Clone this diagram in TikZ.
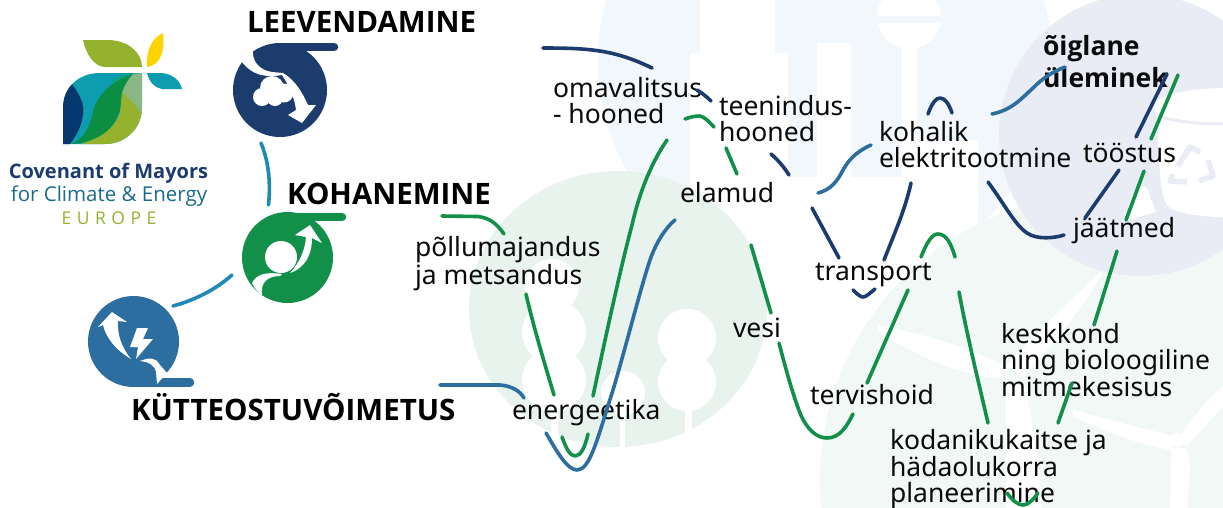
\documentclass[tikz,border=0pt]{standalone}
\usepackage{fontspec}
\setmainfont{Noto Sans}
\newfontfamily\logofont{Open Sans}
\definecolor{ink}{HTML}{0A0A0A}
\definecolor{navyc}{HTML}{1C3C6E}
\definecolor{bluec}{HTML}{2C6E9F}
\definecolor{skyc}{HTML}{1E88B8}
\definecolor{greenc}{HTML}{12904A}
\definecolor{bgblue}{HTML}{F1F7FB}
\definecolor{bggreen}{HTML}{E9F3EE}
\definecolor{bggreenb}{HTML}{F2F8F5}
\definecolor{bglav}{HTML}{E9ECF5}
\definecolor{logoolive}{HTML}{95B22E}
\definecolor{logoyellow}{HTML}{FDD300}
\definecolor{logoteal}{HTML}{0E9DB0}
\definecolor{logonavy}{HTML}{06376F}
\definecolor{logogreen}{HTML}{0B8E43}
\definecolor{logosage}{HTML}{8BB785}
\definecolor{logomid}{HTML}{0AA181}
\definecolor{logotxt}{HTML}{1A6A8A}
\tikzset{
  lbl/.style={anchor=base west,xshift=-1pt,inner sep=0pt,outer sep=0pt,align=left,text=ink,font=\fontsize{26.5}{25.2}\selectfont},
  ttl/.style={anchor=base west,inner sep=0pt,outer sep=0pt,text=black,font=\logofont\fontsize{29.5}{29.5}\selectfont\bfseries},
  conn/.style={line width=3.6pt,line cap=round,line join=round},
  nv/.style={conn,draw=navyc},
  bl/.style={conn,draw=bluec},
  sk/.style={conn,draw=skyc},
  gr/.style={conn,draw=greenc},
  bar/.style={line width=8.5pt,line cap=round},
}
\begin{document}
\begin{tikzpicture}[x=1pt,y=-1pt]
\useasboundingbox (0,0) rectangle (1223,507);
\clip (0,0) rectangle (1223,507);
% ---------- faint background
\fill[bgblue] (825,60) circle [radius=227];
\fill[white] (700,-5) rectangle (775,53);
\fill[white] (690,53) rectangle (788,295);
\fill[white] (817,43) rectangle (851,177);
\fill[white] (902,40) rectangle (917,177);
\fill[white] (909,17) circle [radius=32];
\fill[bgblue] (870,16) rectangle (950,23);
\fill[white] (788,177) rectangle (978,295);
\fill[white] (917,140) rectangle (978,177);
% lower right green disc
\fill[bggreenb] (1106,480) circle [radius=286];
\fill[white] (878,325) .. controls (930,335) and (975,350) .. (1008,368) -- (1000,378) .. controls (960,375) and (925,360) .. (878,332) -- cycle;
\fill[white] (1006,366) .. controls (1040,330) and (1070,300) .. (1105,268) .. controls (1085,305) and (1055,345) .. (1022,376) -- cycle;
\fill[white] (1006,385) -- (1025,385) .. controls (1032,420) and (1040,470) .. (1042,510) -- (1006,510) -- cycle;
\fill[white] (1073,410) .. controls (1110,420) and (1150,430) .. (1172,436) -- (1172,450) .. controls (1140,445) and (1100,430) .. (1073,416) -- cycle;
\fill[white] (1181,434) .. controls (1195,415) and (1210,395) .. (1225,385) -- (1225,405) .. controls (1210,420) and (1198,435) .. (1186,446) -- cycle;
\fill[white] (1171,448) -- (1185,448) .. controls (1195,465) and (1186,490) .. (1188,510) -- (1170,510) -- cycle;
\fill[white] (1177,440) circle [radius=7];
% lavender disc
\fill[bglav] (1140,135) circle [radius=141];
\fill[white] (1153,103) .. controls (1165,92) and (1200,88) .. (1230,88) -- (1230,218) .. controls (1200,216) and (1175,214) .. (1168,206) .. controls (1162,198) and (1162,190) .. (1160,175) -- (1157,118) -- cycle;
\fill[white] (1132,196) .. controls (1138,183) and (1148,183) .. (1150,196) -- (1156,212) -- (1122,222) -- cycle;
\draw[bglav,line width=3pt] (1158,116) .. controls (1175,122) and (1200,124) .. (1230,124);
\begin{scope}[draw=bglav,line width=5.5pt,line join=round]
\draw (1178,166) -- (1190,147) -- (1200,152);
\draw (1208,160) -- (1213,176) -- (1199,181);
\draw (1187,182) -- (1170,181) -- (1173,174);
\end{scope}
% green disc with trees
\fill[bggreen] (618,309) ellipse [x radius=149, y radius=138];
\begin{scope}[white]
\fill (554,332) circle [radius=32];
\fill (554,380) circle [radius=32];
\fill (552,286) circle [radius=27];
\fill (687,338) circle [radius=29];
\fill (687,382) circle [radius=29];
\fill (623,393) circle [radius=22];
\fill (551,400) rectangle (558,445);
\fill (620,400) rectangle (625,455);
\fill (685,400) rectangle (692,445);
\end{scope}
% ---------- logo
\fill[logoolive] (83,40) -- (110,40) .. controls (128,41) and (142,52) .. (142,67) -- (105,67) .. controls (95,67) and (86,55) .. (83,40) -- cycle;
\fill[logoyellow] (147,67) .. controls (146,50) and (152,38) .. (163,33) .. controls (165,48) and (162,65) .. (147,67) -- cycle;
\fill[logoteal] (147,73) -- (162,73) .. controls (172,74) and (180,80) .. (182,89) -- (162,89) .. controls (155,88) and (149,82) .. (147,73) -- cycle;
\begin{scope}
\clip (142,73) -- (100,73) .. controls (78,73) and (63,88) .. (63,108) -- (63,144) -- (105,144) .. controls (126,144) and (142,128) .. (142,107) -- cycle;
\fill[logoteal] (60,70) rectangle (145,147);
\fill[logomid] (112,80) .. controls (120,75) and (130,74) .. (142,73) -- (142,85) -- (120,95) -- cycle;
\fill[logonavy] (72,84) .. controls (80,95) and (85,105) .. (83,115) .. controls (81,128) and (76,136) .. (70,144) -- (60,147) -- (60,90) -- cycle;
\fill[logosage] (142,73) -- (133,74) .. controls (127,80) and (124,88) .. (122,92) -- (142,118) -- cycle;
\fill[logoolive] (122,92) .. controls (130,100) and (142,110) .. (142,118) -- (142,147) -- (72,147) .. controls (95,140) and (115,130) .. (120,112) -- cycle;
\fill[logogreen] (72,144) .. controls (85,138) and (90,125) .. (93,112) .. controls (97,95) and (110,82) .. (133,74) .. controls (127,80) and (124,86) .. (122,92) .. controls (120,100) and (122,108) .. (118,115) .. controls (112,132) and (95,142) .. (72,144) -- cycle;
\end{scope}
\node[anchor=base,inner sep=0pt,text=navyc,font=\logofont\fontsize{20}{20}\selectfont\bfseries] (logoa) at (108.5,178) {Covenant of Mayors};
\node[anchor=base,inner sep=0pt,text=logotxt,font=\logofont\fontsize{20.5}{20.5}\selectfont] (logob) at (109,201) {for Climate \& Energy};
\node[anchor=base,inner sep=0pt,text=logoolive,font=\logofont\fontsize{17.5}{17.5}\selectfont] (logoc) at (109,224) {E\kern 5.5pt U\kern 5.5pt R\kern 5.5pt O\kern 5.5pt P\kern 5.5pt E};
% ---------- icons
% leevendamine
\fill[navyc] (280,90) circle [radius=47];
\draw[bar,navyc] (280,47) -- (334,47);
\fill[white] (242,62) .. controls (245,56) and (249,52) .. (253,50) .. controls (252,60) and (258,70) .. (272,72) -- (283,73) .. controls (295,80) and (302,92) .. (308,105) -- (316,105) -- (302,123) -- (288,115) -- (296,110) .. controls (295,100) and (290,87) .. (282,75) .. controls (265,78) and (252,75) .. (242,62) -- cycle;
\fill[white] (262,97) circle [radius=9];
\fill[white] (272,88) circle [radius=12];
\fill[white] (284,93) circle [radius=9.5];
\fill[white] (275,98) circle [radius=8];
% kohanemine
\fill[greenc] (287.5,257.5) circle [radius=45.5];
\draw[bar,greenc] (287.5,217) -- (342,217);
\fill[white] (281,257) circle [radius=16];
\fill[white] (290,273) .. controls (300,262) and (305,250) .. (306,237) -- (295,235) -- (310,225) -- (322,243) -- (312,238) .. controls (312,255) and (305,268) .. (290,273) -- cycle;
\fill[white] (252,283) .. controls (257,273) and (268,272) .. (282,274) -- (280,276) .. controls (268,276) and (260,282) .. (262,296) .. controls (258,292) and (254,288) .. (252,283) -- cycle;
% kutteostuvoimetus
\fill[bluec] (133.5,341.5) circle [radius=45.5];
\draw[bar,bluec] (133.5,382.5) -- (190,382.5);
\fill[white] (131,359) .. controls (116,350) and (106,338) .. (103,325) -- (98,327) -- (112,312) -- (127,322) -- (118,321) .. controls (117,335) and (122,348) .. (131,359) -- cycle;
\fill[white] (137,328) -- (148,328) -- (143,339) -- (153,339) -- (136,359) -- (138,347) -- (130,347) -- cycle;
\fill[white] (140,361) .. controls (148,358) and (155,356) .. (160,365) -- (167,373) -- (157,384) -- (156,372) .. controls (155,366) and (150,362) .. (140,361) -- cycle;
% links between the icons
\draw[sk] (261,143) .. controls (268,160) and (271,180) .. (268.5,205);
\draw[sk] (173,306) .. controls (195,300) and (215,290) .. (232,275);
% ---------- titles
\node[ttl] (lee) at (247,32) {LEEVENDAMINE};
\node[ttl] (koh) at (287,204.5) {KOHANEMINE};
\node[ttl] (kyt) at (131,420) {KÜTTEOSTUVÕIMETUS};
% ---------- labels
\node[lbl] (oma) at (554,123) {omavalitsus\\- hooned};
\node[lbl] (tee) at (720,141) {teenindus-\\hooned};
\node[lbl] (ela) at (681,202) {elamud};
\node[lbl] (pol) at (416,284) {põllumajandus\\ja metsandus};
\node[lbl] (koe) at (880,167) {kohalik\\elektritootmine};
\node[lbl,font=\logofont\fontsize{26.5}{32}\selectfont\bfseries] (oig) at (1044,87) {õiglane\\üleminek};
\node[lbl] (too) at (1084,162) {tööstus};
\node[lbl] (jaa) at (1074,237) {jäätmed};
\node[lbl] (tra) at (816,280) {transport};
\node[lbl] (ves) at (734,337) {vesi};
\node[lbl] (ter) at (811,404) {tervishoid};
\node[lbl] (ene) at (513,419) {energeetika};
\node[lbl] (kes) at (1002,396.5) {keskkond\\ning bioloogiline\\mitmekesisus};
\node[lbl] (kod) at (891,502) {kodanikukaitse ja\\hädaolukorra\\planeerimine};
% ---------- navy connector pieces
\draw[nv] (543,48) .. controls (590,48) and (615,50) .. (652,68);
\draw[nv] (697,90) .. controls (702,93) and (707,97) .. (711,101);
\draw[nv] (771,154) .. controls (778,160) and (784,167) .. (789,175);
\draw[nv] (812,208) -- (839,258);
\draw[nv] (853,290) .. controls (858,295) and (861,297) .. (863,297) .. controls (866,297) and (870,293) .. (875,289);
\draw[nv] (884,260) .. controls (895,232) and (905,210) .. (911,183);
\draw[nv] (928,114) .. controls (932,103) and (936,98) .. (940,98) .. controls (945,98) and (949,104) .. (952,113);
\draw[nv] (988,182) .. controls (1005,205) and (1015,225) .. (1027,233) .. controls (1037,240) and (1055,238) .. (1064,235);
\draw[nv] (1085,218) -- (1119,170);
\draw[nv] (1136,137) -- (1167,74);
% ---------- blue connector pieces
\draw[bl] (440,385) -- (500,385) .. controls (512,386) and (520,391) .. (524,398);
\draw[bl] (546,433) .. controls (556,450) and (567,470) .. (577,470) .. controls (590,470) and (597,440) .. (613,390) .. controls (625,350) and (640,290) .. (650,260) .. controls (655,245) and (665,228) .. (675,220);
\draw[bl] (818,193) .. controls (830,190) and (837,182) .. (843,170) .. controls (850,157) and (860,150) .. (871,145);
\draw[bl] (992,114) .. controls (1012,110) and (1022,98) .. (1033,88) .. controls (1043,78) and (1052,72) .. (1065,67);
% ---------- green connector pieces
\draw[gr] (442,216) -- (478,216.5) .. controls (490,218) and (497,224) .. (504,234);
\draw[gr] (526,294) .. controls (533,325) and (545,365) .. (554,395);
\draw[gr] (593,396) .. controls (605,340) and (620,270) .. (632,225) .. controls (640,190) and (652,162) .. (667,140);
\draw[gr] (562,437) .. controls (566,448) and (570,456) .. (575,456) .. controls (581,456) and (585,447) .. (588,434);
\draw[gr] (685,119) .. controls (690,117) and (695,116) .. (700,116) .. controls (705,117) and (709,122) .. (714,127);
\draw[gr] (726,148) -- (737,174);
\draw[gr] (751,245) -- (771,313);
\draw[gr] (779,343) .. controls (786,370) and (793,395) .. (800,413) .. controls (807,430) and (817,438) .. (827,438) .. controls (840,438) and (847,426) .. (853,414);
\draw[gr] (867,383) -- (908,290);
\draw[gr] (921,257) .. controls (927,242) and (932,234) .. (938,234) .. controls (946,234) and (951,243) .. (955,257);
\draw[gr] (959,292) .. controls (967,335) and (978,380) .. (988,423);
\draw[gr] (1058,423) -- (1072,383);
\draw[gr] (1094,325) -- (1117,251);
\draw[gr] (1126,220) -- (1144,171);
\draw[gr] (1151,139) -- (1178,75);
\draw[gr] (1007,493) .. controls (1013,501) and (1018,505) .. (1023,505) .. controls (1028,505) and (1033,500) .. (1038,493);
\end{tikzpicture}
\end{document}
